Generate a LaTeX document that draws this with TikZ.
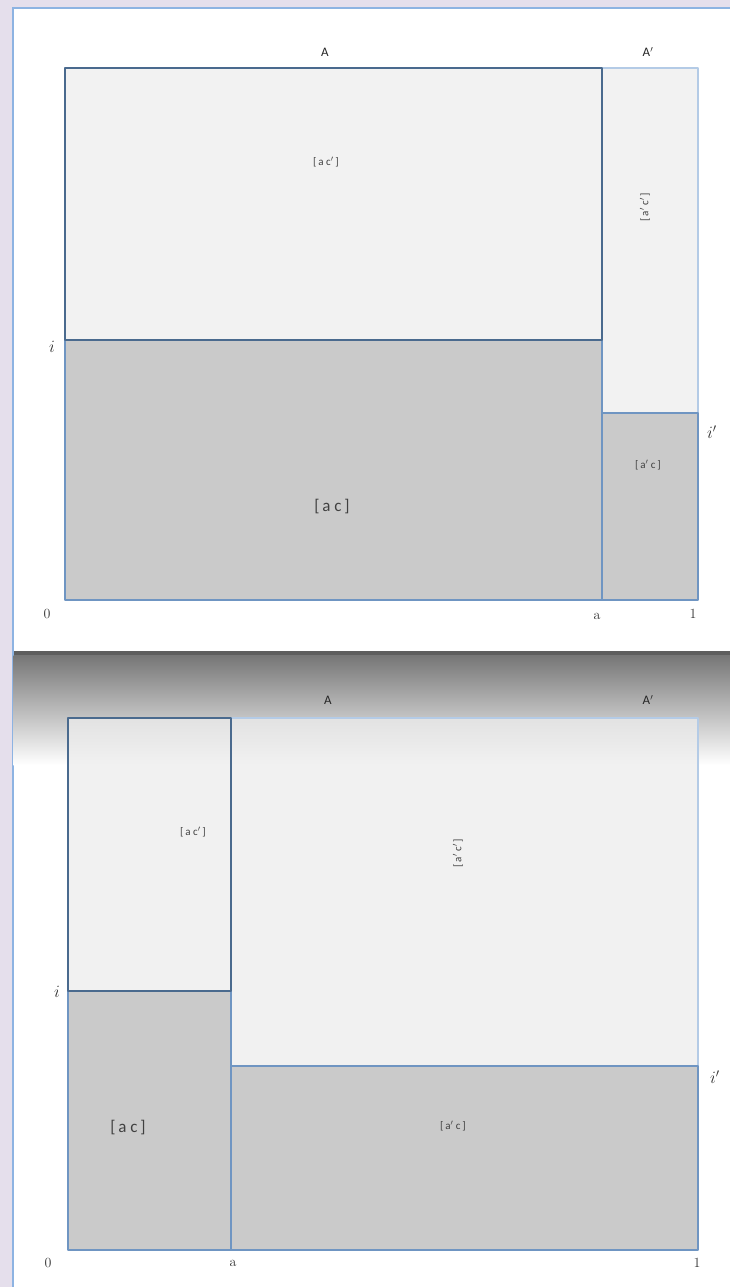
\documentclass[tikz,border=0pt]{standalone}
\usepackage{fontspec}
\usepackage{tikz}
\usepackage{xcolor}
\newfontfamily\lblfont{Carlito}
\definecolor{Lavender}{HTML}{E5DFEC}
\definecolor{PanelLine}{HTML}{8DB3E2}
\definecolor{DarkLine}{HTML}{4A6A8E}
\definecolor{MidLine}{HTML}{6F95C2}
\definecolor{PaleLine}{HTML}{B4CBE6}
\definecolor{LightFill}{HTML}{F2F2F2}
\definecolor{SoftFill}{HTML}{EDEDED}
\definecolor{GrayFill}{HTML}{CACACA}
\definecolor{Shadow}{HTML}{767676}
\tikzset{
  cell/.style={line width=1.6pt,line join=round},
  setlbl/.style={font=\lblfont\fontsize{11}{13}\selectfont,text=black!75,inner sep=1pt},
  biglbl/.style={font=\lblfont\fontsize{17}{20}\selectfont,text=black!75,inner sep=1pt},
  axlbl/.style={font=\fontsize{14}{16}\selectfont,text=black!80,inner sep=1pt},
  ilbl/.style={font=\fontsize{17}{20}\selectfont,text=black!80,inner sep=1pt},
  caplbl/.style={font=\lblfont\fontsize{13}{15}\selectfont,text=black!85,inner sep=1pt}
}

\begin{document}
\begin{tikzpicture}[x={(1pt,0)},y={(0,-1pt)}]
  \useasboundingbox (0,0) rectangle (730,1287);
  % page and panel
  \fill[Lavender] (0,0) rectangle (730,1287);
  \fill[white] (13,8) rectangle (732,1289);
  \draw[PanelLine,line width=1.2pt] (732,8) -- (13,8) -- (13,1289);
  % shaded band between the two panels
  \fill[Shadow!80!black] (13.6,651) rectangle (730,655);
  \shade[top color=Shadow,bottom color=white] (13.6,655) rectangle (730,765);

  % ---- upper diagram ----
  \fill[LightFill] (65,68) rectangle (602,340);
  \fill[GrayFill] (65,340) rectangle (602,600);
  \fill[LightFill] (602,68) rectangle (698,413);
  \fill[GrayFill] (602,413) rectangle (698,600);
  \draw[cell,PaleLine] (602,68) rectangle (698,413);
  \draw[cell,MidLine] (602,413) rectangle (698,600);
  \draw[cell,MidLine] (65,340) rectangle (602,600);
  \draw[cell,DarkLine] (65,68) rectangle (602,340);

  \node[caplbl] (upA) at (325,52) {A};
  \node[caplbl] (upAp) at (648,52) {A$'$};
  \node[setlbl] (upacp) at (326,162) {[\,a c$'$\,]};
  \node[setlbl,rotate=90] (upapcp) at (645,207) {[\,a$'$ c$'$\,]};
  \node[setlbl] (upapc) at (648,465) {[\,a$'$ c\,]};
  \node[biglbl] (upac) at (332,507) {[\,a c\,]};
  \node[ilbl] (upi) at (52,347) {$i$};
  \node[ilbl] (upip) at (712,432) {$i'$};
  \node[axlbl] (upzero) at (47,614) {0};
  \node[axlbl] (upa) at (597,616) {a};
  \node[axlbl] (upone) at (693,614) {1};

  % ---- lower diagram ----
  \fill[SoftFill,fill opacity=0.75] (68,718) rectangle (231,991);
  \fill[GrayFill] (68,991) rectangle (231,1250);
  \fill[SoftFill,fill opacity=0.75] (231,718) rectangle (698,1066);
  \fill[GrayFill] (231,1066) rectangle (698,1250);
  \draw[cell,PaleLine] (231,718) rectangle (698,1066);
  \draw[cell,MidLine] (231,1066) rectangle (698,1250);
  \draw[cell,MidLine] (68,991) rectangle (231,1250);
  \draw[cell,DarkLine] (68,718) rectangle (231,991);

  \node[caplbl] (loA) at (328,700) {A};
  \node[caplbl] (loAp) at (648,700) {A$'$};
  \node[setlbl] (loacp) at (193,832) {[\,a c$'$\,]};
  \node[setlbl,rotate=90] (loapcp) at (458,853) {[\,a$'$ c$'$\,]};
  \node[setlbl] (loapc) at (453,1126) {[\,a$'$ c\,]};
  \node[biglbl] (loac) at (128,1128) {[\,a c\,]};
  \node[ilbl] (loi) at (57,992) {$i$};
  \node[ilbl] (loip) at (715,1077) {$i'$};
  \node[axlbl] (lozero) at (48,1263) {0};
  \node[axlbl] (loa) at (233,1263) {a};
  \node[axlbl] (loone) at (697,1263) {1};
\end{tikzpicture}
\end{document}
